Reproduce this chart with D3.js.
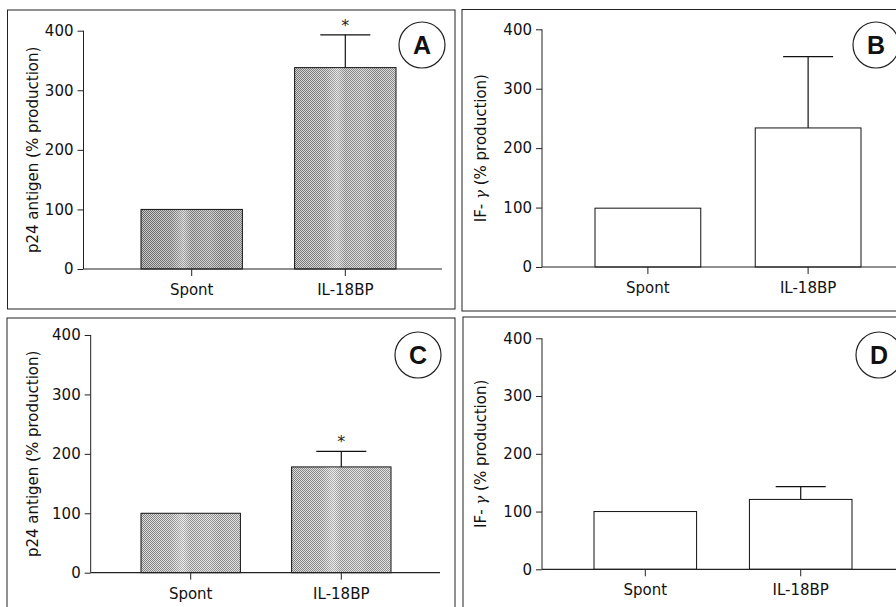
<!DOCTYPE html>
<html>
<head>
<meta charset="utf-8">
<script src="https://cdn.jsdelivr.net/npm/d3@7"></script>
<style>
  html, body { margin: 0; padding: 0; background: #fff; }
  svg { display: block; font-family: "DejaVu Sans", sans-serif; }
</style>
</head>
<body>
<div id="chart"></div>
<script>
// Categories shared by all four panels
const categories = ["Spont", "IL-18BP"];
const yTicks = [0, 100, 200, 300, 400];
const panelLetters = ["A", "B", "C", "D"];

// p24 antigen, first experiment (A) and second (C)
const p24MeansA = [100, 338];
const p24ErrorsA = [0, 55];
const p24MeansC = [100, 178];
const p24ErrorsC = [0, 26];

// IF-gamma, first experiment (B) and second (D)
const ifgMeansB = [99, 234];
const ifgErrorsB = [0, 120];
const ifgMeansD = [100, 121];
const ifgErrorsD = [0, 22];

// significance marks (asterisk) per bar
const starsA = [false, true];
const starsB = [false, false];
const starsC = [false, true];
const starsD = [false, false];

const width = 896;
const height = 607;

const svg = d3
  .select("#chart")
  .append("svg")
  .attr("width", width)
  .attr("height", height);

// dithered grey fill like the printed figure
const defs = svg.append("defs");
function addDither(id, dark, light) {
  const p = defs
    .append("pattern")
    .attr("id", id)
    .attr("width", 2)
    .attr("height", 2)
    .attr("patternUnits", "userSpaceOnUse");
  p.append("rect").attr("width", 2).attr("height", 2).attr("fill", light);
  p.append("rect").attr("width", 1).attr("height", 1).attr("fill", dark);
  p.append("rect").attr("x", 1).attr("y", 1).attr("width", 1).attr("height", 1).attr("fill", dark);
}
addDither("ditherDark", "#6a6a6a", "#c8c8c8");
addDither("ditherMid", "#767676", "#d6d6d6");
addDither("ditherLight", "#808080", "#dedede");

// soft vertical light streaks on top of the dither
const streak = defs.append("linearGradient").attr("id", "streak").attr("x1", 0).attr("x2", 1);
[
  [0, 0], [0.3, 0.08], [0.42, 0.4], [0.5, 0.1], [0.68, 0.2], [0.8, 0.05], [1, 0.15],
].forEach(([o, a]) => {
  streak.append("stop").attr("offset", o).attr("stop-color", "#fff").attr("stop-opacity", a);
});

// layout of each panel (positions only, values come from the arrays above)
const panels = [
  {
    letter: panelLetters[0], means: p24MeansA, errors: p24ErrorsA, stars: starsA,
    fills: ["url(#ditherDark)", "url(#ditherMid)"],
    label: "p24",
    box: [7.5, 10, 447.5, 299], axisX: 83.5, yTop: 30.7, yBottom: 269,
    bars: [141, 396], axisEnd: 442, circle: [422, 45], labelX: 33,
  },
  {
    letter: panelLetters[1], means: ifgMeansB, errors: ifgErrorsB, stars: starsB,
    fills: ["#fff", "#fff"],
    label: "ifg",
    box: [462, 9.5, 500, 301.5], axisX: 542, yTop: 29.3, yBottom: 267,
    bars: [595, 861], axisEnd: 900, circle: [876, 45], labelX: 481,
  },
  {
    letter: panelLetters[2], means: p24MeansC, errors: p24ErrorsC, stars: starsC,
    fills: ["url(#ditherLight)", "url(#ditherLight)"],
    label: "p24",
    box: [7, 318, 448, 400], axisX: 90.7, yTop: 335, yBottom: 572.7,
    bars: [141, 391], axisEnd: 440, circle: [418, 355], labelX: 33,
  },
  {
    letter: panelLetters[3], means: ifgMeansD, errors: ifgErrorsD, stars: starsD,
    fills: ["#fff", "#fff"],
    label: "ifg",
    box: [463, 317, 500, 400], axisX: 542, yTop: 338.3, yBottom: 569.3,
    bars: [594, 852], axisEnd: 900, circle: [879, 355], labelX: 481,
  },
];

panels.forEach(function (p) {
  const g = svg.append("g");

  // panel frame
  g.append("rect")
    .attr("x", p.box[0])
    .attr("y", p.box[1])
    .attr("width", p.box[2])
    .attr("height", p.box[3])
    .attr("fill", "none")
    .attr("stroke", "#222")
    .attr("stroke-width", 1);

  const x = d3
    .scaleBand()
    .domain(categories)
    .range(p.bars)
    .paddingInner(0.34)
    .paddingOuter(0);

  const y = d3.scaleLinear().domain([0, 400]).range([p.yBottom, p.yTop]);

  const data = categories.map((c, i) => ({
    cat: c,
    mean: p.means[i],
    err: p.errors[i],
    star: p.stars[i],
    fill: p.fills[i],
  }));

  // error bars (drawn first so the bar covers the lower part)
  const eb = g.selectAll(".err").data(data.filter((d) => d.err > 0)).enter();
  eb.append("line")
    .attr("x1", (d) => x(d.cat) + x.bandwidth() / 2)
    .attr("x2", (d) => x(d.cat) + x.bandwidth() / 2)
    .attr("y1", (d) => y(d.mean))
    .attr("y2", (d) => y(d.mean + d.err))
    .attr("stroke", "#111")
    .attr("stroke-width", 1.2);
  eb.append("line")
    .attr("x1", (d) => x(d.cat) + x.bandwidth() / 2 - 25)
    .attr("x2", (d) => x(d.cat) + x.bandwidth() / 2 + 25)
    .attr("y1", (d) => y(d.mean + d.err))
    .attr("y2", (d) => y(d.mean + d.err))
    .attr("stroke", "#111")
    .attr("stroke-width", 1.2);

  // bars
  g.selectAll(".bar")
    .data(data)
    .enter()
    .append("rect")
    .attr("x", (d) => x(d.cat))
    .attr("y", (d) => y(d.mean))
    .attr("width", x.bandwidth())
    .attr("height", (d) => y(0) - y(d.mean))
    .attr("fill", (d) => d.fill)
    .attr("stroke", "#111")
    .attr("stroke-width", 1);

  // light streaks only on the textured bars
  g.selectAll(".streak")
    .data(data.filter((d) => d.fill !== "#fff"))
    .enter()
    .append("rect")
    .attr("x", (d) => x(d.cat) + 0.5)
    .attr("y", (d) => y(d.mean) + 0.5)
    .attr("width", x.bandwidth() - 1)
    .attr("height", (d) => y(0) - y(d.mean) - 1)
    .attr("fill", "url(#streak)");

  // asterisks
  g.selectAll(".star")
    .data(data.filter((d) => d.star))
    .enter()
    .append("text")
    .attr("x", (d) => x(d.cat) + x.bandwidth() / 2)
    .attr("y", (d) => y(d.mean + d.err) - 4)
    .attr("text-anchor", "middle")
    .attr("font-size", 16)
    .attr("fill", "#222")
    .text("*");

  // y axis
  const yAxis = d3.axisLeft(y).tickValues(yTicks).tickSize(6).tickPadding(4);
  const ya = g
    .append("g")
    .attr("transform", "translate(" + p.axisX + ",0)")
    .call(yAxis);
  ya.select(".domain").attr("d", "M0," + y(400) + "V" + y(0)).attr("stroke", "#222");
  ya.selectAll(".tick line").attr("stroke", "#222");
  ya.selectAll(".tick text")
    .attr("font-size", 15)
    .attr("font-family", "DejaVu Sans, sans-serif")
    .attr("fill", "#111");

  // x axis baseline
  g.append("line")
    .attr("x1", p.axisX)
    .attr("x2", p.axisEnd)
    .attr("y1", y(0))
    .attr("y2", y(0))
    .attr("stroke", "#222")
    .attr("stroke-width", 1.2);

  // x ticks + category labels
  const xa = g.selectAll(".xt").data(categories).enter();
  xa.append("line")
    .attr("x1", (d) => x(d) + x.bandwidth() / 2)
    .attr("x2", (d) => x(d) + x.bandwidth() / 2)
    .attr("y1", y(0))
    .attr("y2", y(0) + 7)
    .attr("stroke", "#222");
  xa.append("text")
    .attr("x", (d) => x(d) + x.bandwidth() / 2)
    .attr("y", y(0) + 26)
    .attr("text-anchor", "middle")
    .attr("font-size", 15)
    .attr("fill", "#111")
    .text((d) => d);

  // y axis title
  const midY = (p.yTop + p.yBottom) / 2;
  const title = g
    .append("text")
    .attr("transform", "translate(" + p.labelX + "," + midY + ") rotate(-90)")
    .attr("text-anchor", "middle")
    .attr("dy", "0.35em")
    .attr("font-size", 15)
    .attr("fill", "#111");
  if (p.label === "p24") {
    title.text("p24 antigen (% production)");
  } else {
    title.append("tspan").text("IF- ");
    title.append("tspan").attr("font-style", "italic").attr("font-family", "DejaVu Serif, serif").text("γ");
    title.append("tspan").text(" (% production)");
  }

  // panel letter in a circle
  g.append("circle")
    .attr("cx", p.circle[0])
    .attr("cy", p.circle[1])
    .attr("r", 23)
    .attr("fill", "#fff")
    .attr("stroke", "#222")
    .attr("stroke-width", 1.2);
  g.append("text")
    .attr("x", p.circle[0])
    .attr("y", p.circle[1])
    .attr("dy", "0.36em")
    .attr("text-anchor", "middle")
    .attr("font-size", 25)
    .attr("font-weight", "bold")
    .attr("font-family", "Liberation Sans, Arial, sans-serif")
    .attr("fill", "#111")
    .text(p.letter);
});
</script>
</body>
</html>
